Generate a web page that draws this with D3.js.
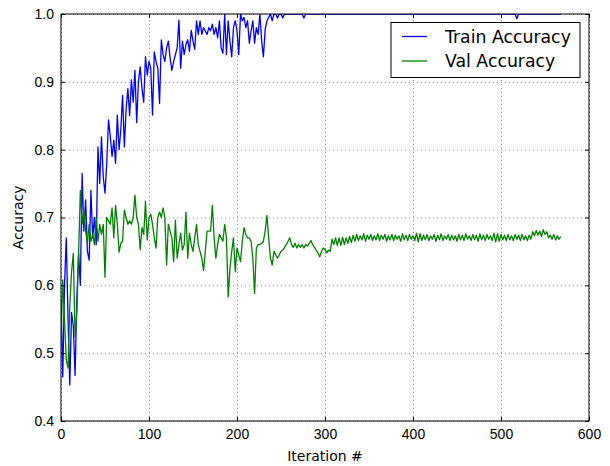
<!DOCTYPE html>
<html>
<head>
<meta charset="utf-8">
<script src="https://cdn.jsdelivr.net/npm/d3@7"></script>
<style>
  body { margin: 0; background: #fff; }
  svg { display: block; font-family: "DejaVu Sans", sans-serif; }
  .axis text { font-size: 14px; fill: #000; }
  .axis path { display: none; }
  .axis line { stroke: #000; }
  .grid line { stroke: #000; stroke-width: 0.7; stroke-dasharray: 1,3; opacity: 0.6; }
  .grid path { display: none; }
</style>
</head>
<body>
<div id="chart"></div>
<script>
// iterations are sampled every 2 steps, starting at 0
const iterStep = 2;

const trainAcc = [
  0.58,0.465,0.60,0.67,0.55,0.453,0.56,0.54,0.467,0.58,
  0.647,0.60,0.765,0.68,0.726,0.65,0.637,0.74,0.67,0.70,
  0.66,0.804,0.75,0.819,0.76,0.736,0.78,0.844,0.82,0.79,
  0.814,0.78,0.851,0.80,0.83,0.88,0.804,0.86,0.89,0.85,
  0.903,0.87,0.917,0.84,0.90,0.922,0.89,0.87,0.937,0.91,
  0.93,0.92,0.851,0.944,0.93,0.92,0.868,0.962,0.94,0.93,
  0.95,0.96,0.935,0.917,0.93,0.94,0.95,0.991,0.92,0.96,
  0.94,0.955,0.962,0.945,0.976,0.96,0.948,0.99,0.97,0.99,
  0.97,0.98,0.975,0.97,0.98,0.975,0.985,0.97,0.98,0.965,
  0.99,0.95,0.942,1.0,0.94,0.99,0.96,0.937,0.98,0.99,
  0.975,0.94,1.0,0.99,0.995,0.98,0.99,0.957,0.975,0.99,
  0.957,0.98,0.97,1.0,0.96,0.937,0.977,0.99,0.995,1.0,
  0.99,1.0,1.0,0.994,1.0,1.0,0.994,1.0,1.0,1.0,
  1.0,1.0,1.0,1.0,1.0,1.0,1.0,1.0,0.994,1.0,
  1.0,1.0,1.0,1.0,1.0,1.0,1.0,1.0,1.0,1.0,
  1.0,1.0,1.0,1.0,1.0,1.0,1.0,1.0,1.0,1.0,
  1.0,1.0,1.0,1.0,1.0,1.0,1.0,1.0,1.0,1.0,
  1.0,1.0,1.0,1.0,1.0,1.0,1.0,1.0,1.0,1.0,
  1.0,1.0,1.0,1.0,1.0,1.0,1.0,1.0,1.0,1.0,
  1.0,1.0,1.0,1.0,1.0,1.0,1.0,1.0,1.0,1.0,
  1.0,1.0,1.0,1.0,1.0,1.0,1.0,1.0,1.0,1.0,
  1.0,1.0,1.0,1.0,1.0,1.0,1.0,1.0,1.0,1.0,
  1.0,1.0,1.0,1.0,1.0,1.0,1.0,1.0,1.0,1.0,
  1.0,1.0,1.0,1.0,1.0,1.0,1.0,1.0,1.0,1.0,
  1.0,1.0,1.0,1.0,1.0,1.0,1.0,1.0,1.0,1.0,
  1.0,1.0,1.0,1.0,1.0,1.0,1.0,1.0,1.0,0.993,
  1.0,1.0,1.0,1.0,1.0,1.0,1.0,1.0,1.0,1.0,
  1.0,1.0,1.0,1.0,1.0,1.0,1.0,1.0,1.0,1.0,
  1.0,1.0,1.0,1.0,1.0
];

const valAcc = [
  0.524,0.608,0.55,0.49,0.478,0.57,0.62,0.647,0.524,0.56,
  0.647,0.74,0.69,0.71,0.68,0.662,0.69,0.665,0.675,0.66,
  0.70,0.665,0.69,0.675,0.69,0.612,0.70,0.695,0.69,0.714,
  0.67,0.718,0.69,0.649,0.662,0.665,0.711,0.70,0.69,0.695,
  0.69,0.70,0.733,0.70,0.69,0.653,0.685,0.675,0.724,0.667,
  0.70,0.705,0.69,0.67,0.655,0.70,0.708,0.70,0.714,0.70,
  0.63,0.69,0.68,0.67,0.635,0.696,0.64,0.66,0.677,0.652,
  0.66,0.708,0.64,0.677,0.66,0.65,0.67,0.69,0.66,0.65,
  0.64,0.622,0.65,0.68,0.68,0.68,0.718,0.67,0.64,0.66,
  0.675,0.67,0.665,0.69,0.67,0.583,0.625,0.65,0.67,0.62,
  0.655,0.645,0.635,0.665,0.685,0.675,0.67,0.67,0.665,0.64,
  0.588,0.655,0.66,0.66,0.662,0.665,0.68,0.703,0.67,0.64,
  0.63,0.65,0.645,0.64,0.645,0.65,0.652,0.656,0.66,0.665,
  0.67,0.66,0.656,0.662,0.655,0.66,0.656,0.66,0.655,0.66,
  0.658,0.662,0.666,0.66,0.656,0.652,0.648,0.642,0.65,0.655,
  0.653,0.648,0.652,0.65,0.668,0.66,0.670,0.659,0.670,0.659,
  0.671,0.660,0.670,0.662,0.672,0.663,0.674,0.665,0.675,0.666,
  0.673,0.667,0.676,0.665,0.674,0.668,0.675,0.666,0.673,0.667,
  0.676,0.666,0.674,0.668,0.675,0.665,0.673,0.667,0.675,0.666,
  0.674,0.668,0.673,0.665,0.676,0.667,0.674,0.666,0.675,0.668,
  0.673,0.666,0.677,0.664,0.676,0.666,0.674,0.667,0.675,0.666,
  0.673,0.668,0.675,0.665,0.674,0.667,0.676,0.666,0.673,0.668,
  0.675,0.666,0.674,0.667,0.673,0.665,0.675,0.667,0.674,0.666,
  0.676,0.668,0.673,0.666,0.675,0.667,0.674,0.665,0.676,0.667,
  0.674,0.666,0.675,0.668,0.673,0.666,0.677,0.664,0.676,0.665,
  0.675,0.667,0.674,0.666,0.675,0.667,0.673,0.666,0.675,0.668,
  0.674,0.666,0.675,0.667,0.673,0.666,0.674,0.668,0.679,0.673,
  0.681,0.674,0.680,0.672,0.682,0.675,0.679,0.670,0.674,0.668,
  0.675,0.667,0.673,0.668,0.672
];

const xTicks = [0, 100, 200, 300, 400, 500, 600];
const yTicks = [0.4, 0.5, 0.6, 0.7, 0.8, 0.9, 1.0];
const seriesNames = ["Train Accuracy", "Val Accuracy"];
const seriesColors = ["#0000ff", "#008000"];

const width = 610;
const height = 466;

const margin = {
    top: 14,
    left: 61,
    right: 21,
    bottom: 45
};

const svg = d3.select("#chart")
    .append("svg")
    .attr("width", width)
    .attr("height", height);

const xScale = d3.scaleLinear()
    .domain([0, 600])
    .range([margin.left, width - margin.right]);

const yScale = d3.scaleLinear()
    .domain([0.4, 1.0])
    .range([height - margin.bottom, margin.top]);

// dotted grid
svg.append("g")
    .attr("class", "grid")
    .attr("transform", `translate(0,${height - margin.bottom})`)
    .call(d3.axisBottom(xScale).tickValues(xTicks).tickSize(-(height - margin.top - margin.bottom)).tickFormat(""));

svg.append("g")
    .attr("class", "grid")
    .attr("transform", `translate(${margin.left},0)`)
    .call(d3.axisLeft(yScale).tickValues(yTicks).tickSize(-(width - margin.left - margin.right)).tickFormat(""));

svg.append("clipPath")
    .attr("id", "plotClip")
    .append("rect")
    .attr("x", margin.left)
    .attr("y", margin.top)
    .attr("width", width - margin.left - margin.right)
    .attr("height", height - margin.top - margin.bottom);

const line = d3.line()
    .x(function(d, i) { return xScale(i * iterStep); })
    .y(function(d) { return yScale(d); });

[trainAcc, valAcc].forEach(function(series, k) {
    svg.append("path")
        .datum(series)
        .attr("clip-path", "url(#plotClip)")
        .attr("fill", "none")
        .attr("stroke", seriesColors[k])
        .attr("stroke-width", 1.3)
        .attr("stroke-linejoin", "round")
        .attr("d", line);
});

// axes with inward ticks on all four sides
svg.append("g")
    .attr("class", "axis")
    .attr("transform", `translate(0,${height - margin.bottom})`)
    .call(d3.axisBottom(xScale).tickValues(xTicks).tickSize(-4).tickPadding(8).tickFormat(d3.format("d")));

svg.append("g")
    .attr("class", "axis")
    .attr("transform", `translate(${margin.left},0)`)
    .call(d3.axisLeft(yScale).tickValues(yTicks).tickSize(-4).tickPadding(7).tickFormat(d3.format(".1f")));

svg.append("g")
    .attr("class", "axis")
    .attr("transform", `translate(0,${margin.top})`)
    .call(d3.axisTop(xScale).tickValues(xTicks).tickSize(-4).tickFormat(""));

svg.append("g")
    .attr("class", "axis")
    .attr("transform", `translate(${width - margin.right},0)`)
    .call(d3.axisRight(yScale).tickValues(yTicks).tickSize(-4).tickFormat(""));

svg.append("rect")
    .attr("x", margin.left)
    .attr("y", margin.top)
    .attr("width", width - margin.left - margin.right)
    .attr("height", height - margin.top - margin.bottom)
    .attr("fill", "none")
    .attr("stroke", "#000")
    .attr("stroke-width", 1);

svg.append("text")
    .attr("x", (margin.left + width - margin.right) / 2)
    .attr("y", height - 5)
    .attr("text-anchor", "middle")
    .attr("font-size", 14)
    .text("Iteration #");

svg.append("text")
    .attr("transform", "rotate(-90)")
    .attr("x", -(margin.top + height - margin.bottom) / 2)
    .attr("y", 23)
    .attr("text-anchor", "middle")
    .attr("font-size", 14)
    .text("Accuracy");

// legend
const legend = svg.append("g")
    .attr("transform", "translate(391,22.5)");

legend.append("rect")
    .attr("width", 189)
    .attr("height", 55)
    .attr("fill", "#fff")
    .attr("stroke", "#000")
    .attr("stroke-width", 1);

seriesNames.forEach(function(name, k) {
    const yy = 14 + k * 24.5;
    legend.append("line")
        .attr("x1", 11)
        .attr("x2", 36)
        .attr("y1", yy)
        .attr("y2", yy)
        .attr("stroke", seriesColors[k])
        .attr("stroke-width", 1.3);
    legend.append("text")
        .attr("x", 54)
        .attr("y", yy)
        .attr("dy", "0.36em")
        .attr("font-size", 17.3)
        .text(name);
});
</script>
</body>
</html>
